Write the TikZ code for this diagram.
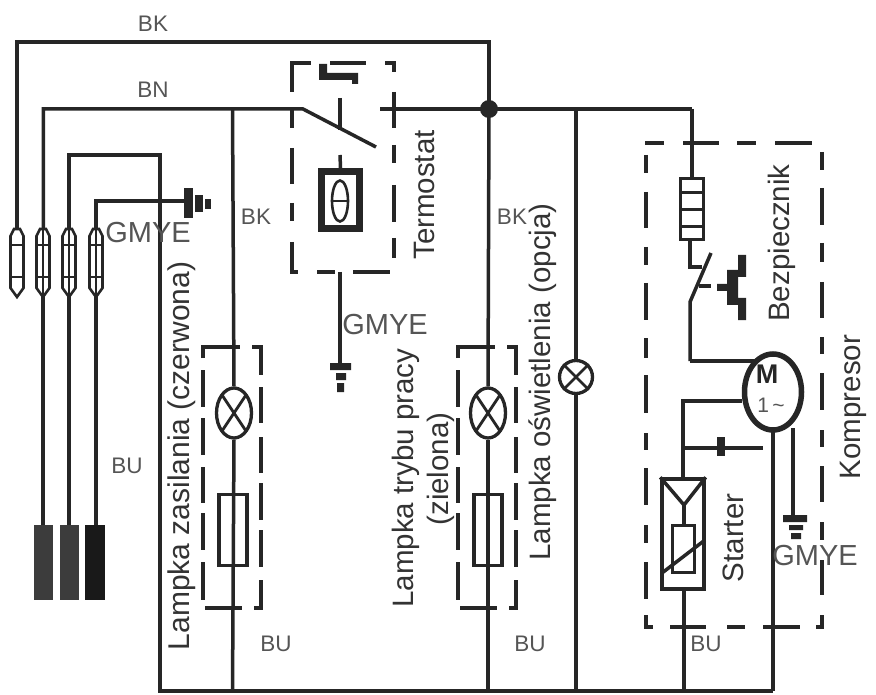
\documentclass[tikz,border=0pt]{standalone}
\usepackage{fontspec}
\setmainfont{Liberation Sans}
\usetikzlibrary{shapes.geometric}
\definecolor{ink}{HTML}{262626}
\definecolor{lab}{HTML}{333333}
\definecolor{labg}{HTML}{555555}
\tikzset{
  wire/.style={draw=ink,line width=3.5pt,line cap=butt,line join=miter},
  dashseg/.style={draw=ink,line width=3.6pt},
  lamp/.style={draw=ink,line width=3.3pt,ellipse,minimum width=35pt,minimum height=50pt,inner sep=0pt,fill=white},
  lampsm/.style={draw=ink,line width=3.3pt,circle,minimum size=33pt,inner sep=0pt,fill=white},
  fusebox/.style={draw=ink,line width=3.3pt,minimum width=28pt,minimum height=71pt,inner sep=0pt},
  vlab/.style={text=lab,font=\fontsize{29.5}{32}\selectfont,rotate=90,inner sep=0pt},
  hlab/.style={text=labg,font=\fontsize{22.5}{24}\selectfont,inner sep=0pt},
  gmye/.style={text=labg,font=\fontsize{29}{30}\selectfont,inner sep=0pt},
  lampx/.pic={\draw[wire,line width=2.8pt] (-12,-18)--(12,18) (12,-18)--(-12,18);}
}
\begin{document}
\begin{tikzpicture}[x=1pt,y=-1pt]
\useasboundingbox (0,0) rectangle (876,695);
\fill[white] (0,0) rectangle (876,695);
% connector coordinates
\coordinate (c1) at (17,228);
\coordinate (c2) at (43.4,228);
\coordinate (c3) at (69,228);
\coordinate (c4) at (96,228);
\coordinate (topL) at (17,42);
\coordinate (topR) at (489,42);
\coordinate (junc) at (489,109);
\coordinate (bnL) at (43.4,109);
\coordinate (swA) at (303,109);
\coordinate (swB) at (376,147);
\coordinate (bnR) at (380,109);
\coordinate (bend) at (692,109);
\coordinate (w3a) at (69,155);
\coordinate (w3b) at (160,155);
\coordinate (w3c) at (160,691);
\coordinate (w4a) at (96,201);
\coordinate (w4b) at (186,201);
\coordinate (botR) at (773,691);
% main wires
\draw[wire] (c1)--(topL)--(topR)--(junc);
\draw[wire] (c2)--(bnL)--(swA)--(swB);
\draw[wire] (bnR)--(junc)--(bend);
\draw[wire] (c3)--(w3a)--(w3b)--(w3c)--(botR);
\draw[wire] (c4)--(w4a)--(w4b);
\fill[ink] (junc) circle (9pt);
% lower terminals
\foreach \x in {43,69,96}{\draw[wire] (\x,295)--(\x,526);}
\fill[ink!90!white] (33.5,525) rectangle (53,600);
\fill[ink!90!white] (60,525) rectangle (79,600);
\fill[black!90] (85,525) rectangle (105,600);
% connectors
\foreach \x in {17,43,69,96}{
  \draw[draw=ink,line width=2.6pt,fill=white] (\x-6.5,288)--(\x,297)--(\x+6.5,288)--(\x+6.5,236)--(\x+3,229)--(\x-3,229)--(\x-6.5,236)--cycle;
  \draw[wire,line width=2.6pt] (\x-6.5,245)--(\x+6.5,245) (\x-6.5,277)--(\x+6.5,277);
}
\foreach \x in {43,69,96}{\draw[wire,line width=2.4pt] (\x,228)--(\x,297);}
% ground top-left
\fill[ink] (184,188) rectangle (193,218);
\fill[ink] (195,195) rectangle (203,212);
\fill[ink] (205,199) rectangle (211,209);
% vertical branches
\node[lamp] (lampA) at (234,413) {};
\node[fusebox] (fuseA) at (233,530) {};
\node[lamp] (lampB) at (488,413) {};
\node[fusebox] (fuseB) at (488,530) {};
\node[lampsm] (lampC) at (576,377) {};
\draw[wire] (232.5,109)--(lampA.north);
\draw[wire] (lampA.south)--(232.5,691);
\draw[wire] (junc)--(lampB.north);
\draw[wire] (lampB.south)--(488,691);
\draw[wire] (576,109)--(lampC.north);
\draw[wire] (lampC.south)--(576,691);
\pic at (lampA) {lampx};
\pic at (lampB) {lampx};
\draw[wire,line width=2.8pt] (lampC.45)--(lampC.225) (lampC.135)--(lampC.315);
% lamp boxes
\foreach \o in {0,255}{
  \foreach \a/\b in {370/407,418/455,467/503,513/550,562/600}{\draw[dashseg] (203+\o,\a)--(203+\o,\b);}
  \draw[dashseg] (203+\o,358)--(203+\o,347)--(240+\o,347);
  \draw[dashseg] (252+\o,347)--(261+\o,347)--(261+\o,375);
  \foreach \a/\b in {387/423,437/473,483/520,530/567}{\draw[dashseg] (261+\o,\a)--(261+\o,\b);}
  \draw[dashseg] (261+\o,580)--(261+\o,608)--(254+\o,608);
  \draw[dashseg] (205+\o,608)--(242+\o,608);
}
% thermostat
\draw[dashseg] (292,92)--(292,63)--(311,63);
\draw[dashseg] (330,63)--(366,63);
\draw[dashseg] (385,63)--(394,63)--(394,72);
\foreach \a/\b in {110/128,148/184,203/221}{\draw[dashseg] (292,\a)--(292,\b);}
\draw[dashseg] (292,242)--(292,272)--(298,272);
\draw[dashseg] (317,272)--(335,272);
\draw[dashseg] (353,272)--(390,272);
\foreach \a/\b in {92/128,145/163,185/222,238/258}{\draw[dashseg] (394,\a)--(394,\b);}
\fill[ink] (319,64) rectangle (327,80) (319,73) rectangle (358,80) (352,73) rectangle (358,84);
\node[draw=ink,line width=7pt,minimum width=38pt,minimum height=57pt,inner sep=0pt] (theta) at (340.5,200) {};
\node[draw=ink,line width=2.6pt,ellipse,minimum width=16pt,minimum height=41pt,inner sep=0pt] (thetaE) at (340,201) {};
\draw[wire,line width=2.4pt] (thetaE.west)--(thetaE.east);
\draw[wire] (340,98)--(340,130);
\draw[wire] (340,155)--(theta.north);
\coordinate (gndT) at (340,363);
\draw[wire] (340,272)--(gndT);
\fill[ink] (330,363) rectangle (351,370) (336,373) rectangle (346,380) (337,383) rectangle (344,392);
% compressor box
\foreach \a/\b in {155/173,192/228,247/265,283/320,338/358,375/413,433/450,468/505,525/543,562/599}{\draw[dashseg] (646,\a)--(646,\b);}
\draw[dashseg] (646,615)--(646,627)--(653,627);
\foreach \a/\b in {645/664,683/719,737/756,775/812}{\draw[dashseg] (\a,143)--(\b,143);}
\foreach \a/\b in {152/170,188/225,243/262,282/318,337/354,373/410,430/447,466/502,522/540,560/595}{\draw[dashseg] (822,\a)--(822,\b);}
\draw[dashseg] (822,615)--(822,627)--(816,627);
\foreach \a/\b in {670/706,727/745,763/800}{\draw[dashseg] (\a,627)--(\b,627);}
% fuse stack
\node[draw=ink,line width=3.4pt,minimum width=23pt,minimum height=61pt,inner sep=0pt] (stack) at (692,209) {};
\foreach \y in {193,210,227}{\draw[wire,line width=3pt] (680,\y)--(704,\y);}
\draw[wire] (bend)--(stack.north);
% overload switch
\coordinate (sw1) at (690,267);
\draw[wire] (690,241)--(sw1)--(702,267);
\draw[wire] (711,253)--(690,302)--(690,361);
\draw[wire] (699,286)--(711,286);
\fill[ink] (717,284) rectangle (738,291) (727,270) rectangle (738,305) (727,270) rectangle (746,277) (727,298) rectangle (746,305) (738,255) rectangle (746,277) (738,298) rectangle (746,320);
% motor
\node[draw=ink,line width=5.5pt,ellipse,minimum width=57pt,minimum height=76pt,inner sep=0pt,fill=white] (motor) at (773,392) {};
\draw[wire] (690,361)--(757,361);
\node[inner sep=0pt,text=ink,font=\bfseries\fontsize{27}{28}\selectfont] (mM) at (767,374) {M};
\node[inner sep=0pt,text=labg,font=\fontsize{21}{24}\selectfont] (mOne) at (771,405) {1\,\textasciitilde};
\coordinate (sL) at (683,401);
\draw[wire] (motor.west |- sL)--(sL)--(683,478);
\draw[wire] (683,448)--(763,448);
\fill[ink] (717,437) rectangle (725,456);
\coordinate (gndM) at (793,515);
\draw[wire] (793,428)--(gndM);
\fill[ink] (783,515) rectangle (807,522) (789,525) rectangle (803,530) (791,533) rectangle (801,539);
\draw[wire] (773,432)--(botR);
% starter
\node[draw=ink,line width=3.4pt,minimum width=42pt,minimum height=110pt,inner sep=0pt] (starter) at (683,534) {};
\draw[wire] (starter.north west)--(684,505)--(starter.north east);
\draw[wire] (684,505)--(684,525);
\node[draw=ink,line width=3.2pt,minimum width=22pt,minimum height=47pt,inner sep=0pt] (ptc) at (683.5,549) {};
\draw[wire] (662,573)--(705,540);
\draw[wire] (684,590)--(684,691);
% labels
\node[hlab] (l1) at (153,24) {BK};
\node[hlab] (l2) at (153,90) {BN};
\node[hlab] (l3) at (256,217) {BK};
\node[hlab] (l4) at (512,217) {BK};
\node[hlab] (l5) at (127,466) {BU};
\node[hlab] (l6) at (276,644) {BU};
\node[hlab] (l7) at (530,644) {BU};
\node[hlab] (l8) at (706,644) {BU};
\node[gmye] (g1) at (148,233) {GMYE};
\node[gmye] (g2) at (385,325) {GMYE};
\node[gmye] (g3) at (815,556) {GMYE};
\node[vlab,font=\fontsize{30}{32}\selectfont] (v1) at (182,456) {Lampka zasilania (czerwona)};
\node[vlab] (v2) at (406,478) {Lampka trybu pracy};
\node[vlab] (v3) at (441,469) {(zielona)};
\node[vlab] (v4) at (543,382) {Lampka oświetlenia (opcja)};
\node[vlab] (v5) at (424,195) {Termostat};
\node[vlab] (v6) at (782,243) {Bezpiecznik};
\node[vlab] (v7) at (853,407) {Kompresor};
\node[vlab] (v8) at (733,538) {Starter};
\end{tikzpicture}
\end{document}
